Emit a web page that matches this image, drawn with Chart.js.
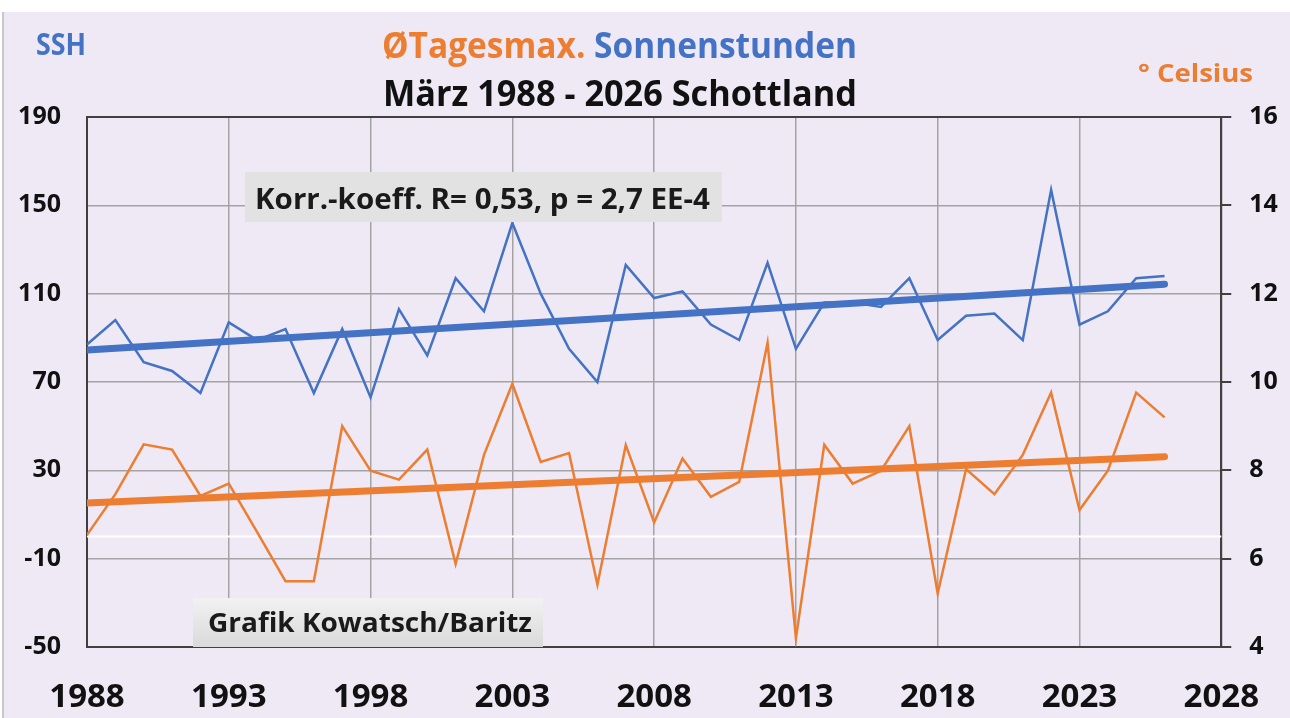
<!DOCTYPE html>
<html>
<head>
<meta charset="utf-8">
<script src="https://cdn.jsdelivr.net/npm/chart.js@4/dist/chart.umd.min.js"></script>
<style>
  body { margin: 0; background: #fff; }
  #wrap { position: relative; width: 1290px; height: 718px; }
</style>
</head>
<body>
<div id="wrap"><canvas id="chart"></canvas></div>
<script>
const years = [1988, 1989, 1990, 1991, 1992, 1993, 1994, 1995, 1996, 1997,
  1998, 1999, 2000, 2001, 2002, 2003, 2004, 2005, 2006, 2007,
  2008, 2009, 2010, 2011, 2012, 2013, 2014, 2015, 2016, 2017,
  2018, 2019, 2020, 2021, 2022, 2023, 2024, 2025, 2026];

// Sonnenstunden (linke Achse)
const sunshine = [87, 98, 79, 75, 65, 97, 89, 94, 65, 94,
  63, 103, 82, 117, 102, 142, 110, 85, 70, 123,
  108, 111, 96, 89, 124, 85, 106, 106, 104, 117,
  89, 100, 101, 89, 157, 96, 102, 117, 118];

// Tagesmaximum in °C (rechte Achse)
const tempMax = [6.54, 7.46, 8.59, 8.47, 7.42, 7.70, 6.6, 5.49, 5.49, 9.0,
  7.99, 7.79, 8.47, 5.88, 8.35, 9.96, 8.19, 8.39, 5.41, 8.57,
  6.82, 8.27, 7.4, 7.74, 10.89, 4.2, 8.58, 7.70, 7.99, 9.0,
  5.21, 8.03, 7.46, 8.35, 9.76, 7.1, 7.99, 9.76, 9.2];

const trendYears = [1988, 2026];
const sunshineTrend = [84.5, 114.3];
const tempTrend = [7.26, 8.31];

const xTicks = [1988, 1993, 1998, 2003, 2008, 2013, 2018, 2023, 2028];
const sshTicks = [-50, -10, 30, 70, 110, 150, 190];
const celsiusTicks = [4, 6, 8, 10, 12, 14, 16];

const BLUE = "#4472c4";
const ORANGE = "#ed7d31";
const FONT = '"Open Sans", "DejaVu Sans", sans-serif';

const toPoints = (xs, ys) => xs.map((x, i) => ({ x: x, y: ys[i] }));

// draw bold text with a given cap height, squeezed/stretched to a given width
function fitText(ctx, parts, x, baseline, width, capH) {
  const size = capH / 0.714;
  ctx.font = `700 ${size}px ${FONT}`;
  const total = parts.reduce((s, p) => s + ctx.measureText(p.text).width, 0);
  ctx.save();
  ctx.translate(x, baseline);
  ctx.scale(width / total, 1);
  ctx.textAlign = "left";
  ctx.textBaseline = "alphabetic";
  let cx = 0;
  parts.forEach((p) => {
    ctx.fillStyle = p.color;
    ctx.fillText(p.text, cx, 0);
    cx += ctx.measureText(p.text).width;
  });
  ctx.restore();
}

const decor = {
  id: "decor",
  beforeDraw(chart) {
    const ctx = chart.ctx;
    ctx.save();
    ctx.fillStyle = "#ffffff";
    ctx.fillRect(0, 0, chart.width, chart.height);
    ctx.fillStyle = "#c8c8c8";
    ctx.fillRect(2, 12, 2, chart.height - 12);
    ctx.fillStyle = "#eee9f5";
    ctx.fillRect(4, 12, chart.width - 4, chart.height - 12);
    ctx.restore();
  },
  beforeDatasetsDraw(chart) {
    // weisse Null-Linie der SSH-Achse
    const ctx = chart.ctx;
    const area = chart.chartArea;
    const y0 = chart.scales.y.getPixelForValue(0);
    ctx.save();
    ctx.strokeStyle = "#ffffff";
    ctx.lineWidth = 2;
    ctx.beginPath();
    ctx.moveTo(area.left, y0);
    ctx.lineTo(area.right, y0);
    ctx.stroke();
    ctx.restore();
  },
  afterDatasetsDraw(chart) {
    const ctx = chart.ctx;
    ctx.save();
    // Korrelations-Box
    ctx.fillStyle = "#e2e2e2";
    ctx.fillRect(245, 172, 477, 50);
    fitText(ctx, [{ text: "Korr.-koeff. R= 0,53, p = 2,7 EE-4", color: "#1a1a1a" }], 255, 209, 455, 21);

    // Quellen-Box
    const g = ctx.createLinearGradient(0, 598, 0, 647);
    g.addColorStop(0, "#f2f2f2");
    g.addColorStop(1, "#d9d9d9");
    ctx.fillStyle = g;
    ctx.fillRect(193, 598, 350, 49);
    fitText(ctx, [{ text: "Grafik Kowatsch/Baritz", color: "#1a1a1a" }], 208, 632, 324, 19);

    // Titel
    fitText(ctx, [
      { text: "ØTagesmax.", color: ORANGE },
      { text: " Sonnenstunden", color: BLUE },
    ], 382, 58, 475, 25);
    fitText(ctx, [{ text: "März 1988 - 2026 Schottland", color: "#111111" }], 383, 106, 474, 26);
    fitText(ctx, [{ text: "SSH", color: BLUE }], 36, 55, 50, 22);
    fitText(ctx, [{ text: "° Celsius", color: ORANGE }], 1138, 82, 115, 18);
    ctx.restore();
  },
};

new Chart(document.getElementById("chart"), {
  type: "line",
  data: {
    datasets: [
      {
        data: toPoints(trendYears, sunshineTrend),
        yAxisID: "y",
        borderColor: BLUE,
        borderWidth: 7,
        borderCapStyle: "round",
        pointRadius: 0,
        order: 0,
      },
      {
        data: toPoints(trendYears, tempTrend),
        yAxisID: "y1",
        borderColor: ORANGE,
        borderWidth: 7,
        borderCapStyle: "round",
        pointRadius: 0,
        order: 0,
      },
      {
        data: toPoints(years, sunshine),
        yAxisID: "y",
        borderColor: BLUE,
        borderWidth: 2.5,
        pointRadius: 0,
        tension: 0,
        order: 1,
      },
      {
        data: toPoints(years, tempMax),
        yAxisID: "y1",
        borderColor: ORANGE,
        borderWidth: 2.5,
        pointRadius: 0,
        tension: 0,
        order: 1,
      },
    ],
  },
  options: {
    responsive: true,
    maintainAspectRatio: false,
    animation: false,
    layout: { padding: { top: 117, left: 0, right: 0, bottom: 0 } },
    plugins: {
      legend: { display: false },
      tooltip: { enabled: false },
      title: { display: false },
    },
    scales: {
      x: {
        type: "linear",
        min: xTicks[0],
        max: xTicks[xTicks.length - 1],
        afterBuildTicks: (s) => { s.ticks = xTicks.map((v) => ({ value: v })); },
        afterFit: (s) => { s.height = 71; },
        ticks: {
          callback: (v) => String(v),
          color: "#111",
          padding: 31,
          font: { family: FONT, size: 33, weight: "700" },
        },
        grid: { color: "#a3a3a3", lineWidth: 1.5, drawTicks: false },
        border: { color: "#404040", width: 2 },
      },
      y: {
        position: "left",
        min: sshTicks[0],
        max: sshTicks[sshTicks.length - 1],
        afterBuildTicks: (s) => { s.ticks = sshTicks.map((v) => ({ value: v })); },
        afterFit: (s) => { s.width = 87; },
        ticks: {
          color: "#111",
          padding: 26,
          font: { family: FONT, size: 25, weight: "700" },
        },
        grid: {
          color: (c) => (c.tick && c.tick.value === 190 ? "#404040" : "#a3a3a3"),
          lineWidth: (c) => (c.tick && c.tick.value === 190 ? 2 : 1.5),
          drawTicks: false,
        },
        border: { color: "#404040", width: 2 },
      },
      y1: {
        position: "right",
        min: celsiusTicks[0],
        max: celsiusTicks[celsiusTicks.length - 1],
        afterBuildTicks: (s) => { s.ticks = celsiusTicks.map((v) => ({ value: v })); },
        afterFit: (s) => { s.width = 68; },
        ticks: {
          color: "#111",
          padding: 18,
          font: { family: FONT, size: 25, weight: "700" },
        },
        grid: { drawOnChartArea: false, drawTicks: true, tickLength: 10, color: "#404040", lineWidth: 2 },
        border: { color: "#404040", width: 2 },
      },
    },
  },
  plugins: [decor],
});
</script>
</body>
</html>
